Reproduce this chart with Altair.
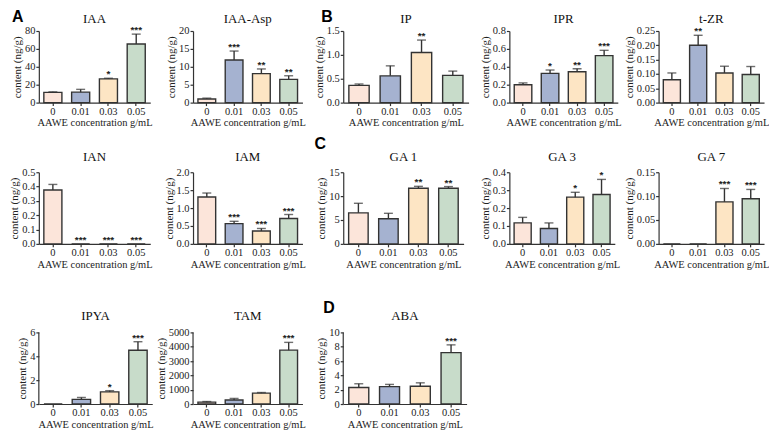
import altair as alt
import pandas as pd

CONC = ["0", "0.01", "0.03", "0.05"]
COLORS = ["#FCE5DA", "#A5B2D0", "#FDE5C4", "#C8DCCA"]

# ---- data (mean, upper SD, significance) ----
IAA_MEAN = [11.4, 11.7, 26.5, 65.5]
IAA_ERR = [0.6, 3.1, 0.7, 11.0]
IAA_SIG = ["", "", "*", "***"]

IAAASP_MEAN = [1.0, 11.9, 8.1, 6.5]
IAAASP_ERR = [0.25, 2.5, 1.3, 1.0]
IAAASP_SIG = ["", "***", "**", "**"]

IP_MEAN = [0.36, 0.56, 1.05, 0.57]
IP_ERR = [0.03, 0.21, 0.26, 0.09]
IP_SIG = ["", "", "**", ""]

IPR_MEAN = [0.20, 0.326, 0.344, 0.525]
IPR_ERR = [0.02, 0.038, 0.034, 0.059]
IPR_SIG = ["", "*", "**", "***"]

TZR_MEAN = [0.080, 0.200, 0.1035, 0.098]
TZR_ERR = [0.0235, 0.035, 0.0235, 0.028]
TZR_SIG = ["", "**", "", ""]

IAN_MEAN = [0.376, 0.0, 0.0, 0.0]
IAN_ERR = [0.039, 0.0, 0.0, 0.0]
IAN_SIG = ["", "***", "***", "***"]

IAM_MEAN = [1.31, 0.566, 0.36, 0.71]
IAM_ERR = [0.11, 0.064, 0.07, 0.11]
IAM_SIG = ["", "***", "***", "***"]

GA1_MEAN = [6.5, 5.26, 11.65, 11.65]
GA1_ERR = [2.0, 1.14, 0.4, 0.35]
GA1_SIG = ["", "", "**", "**"]

GA3_MEAN = [0.117, 0.086, 0.261, 0.276]
GA3_ERR = [0.031, 0.031, 0.027, 0.084]
GA3_SIG = ["", "", "*", "*"]

GA7_MEAN = [0.0, 0.0, 0.088, 0.0946]
GA7_ERR = [0.0, 0.0, 0.028, 0.0194]
GA7_SIG = ["", "", "***", "***"]

IPYA_MEAN = [0.0, 0.39, 1.02, 4.51]
IPYA_ERR = [0.0, 0.16, 0.10, 0.71]
IPYA_SIG = ["", "", "*", "***"]

TAM_MEAN = [130, 283, 761, 3761]
TAM_ERR = [44, 108, 43, 543]
TAM_SIG = ["", "", "", "***"]

ABA_MEAN = [2.30, 2.43, 2.48, 7.17]
ABA_ERR = [0.53, 0.31, 0.48, 1.09]
ABA_SIG = ["", "", "", "***"]

TITLES = ["IAA", "IAA-Asp", "IP", "IPR", "t-ZR",
          "IAN", "IAM", "GA 1", "GA 3", "GA 7",
          "IPYA", "TAM", "ABA"]
MEANS = [IAA_MEAN, IAAASP_MEAN, IP_MEAN, IPR_MEAN, TZR_MEAN,
         IAN_MEAN, IAM_MEAN, GA1_MEAN, GA3_MEAN, GA7_MEAN,
         IPYA_MEAN, TAM_MEAN, ABA_MEAN]
ERRS = [IAA_ERR, IAAASP_ERR, IP_ERR, IPR_ERR, TZR_ERR,
        IAN_ERR, IAM_ERR, GA1_ERR, GA3_ERR, GA7_ERR,
        IPYA_ERR, TAM_ERR, ABA_ERR]
SIGS = [IAA_SIG, IAAASP_SIG, IP_SIG, IPR_SIG, TZR_SIG,
        IAN_SIG, IAM_SIG, GA1_SIG, GA3_SIG, GA7_SIG,
        IPYA_SIG, TAM_SIG, ABA_SIG]
YTICKS = [[0, 20, 40, 60, 80], [0, 5, 10, 15, 20], [0, 0.5, 1.0, 1.5],
          [0, 0.2, 0.4, 0.6, 0.8], [0, 0.05, 0.10, 0.15, 0.20, 0.25],
          [0, 0.1, 0.2, 0.3, 0.4, 0.5], [0, 0.5, 1.0, 1.5, 2.0], [0, 5, 10, 15],
          [0, 0.1, 0.2, 0.3, 0.4], [0, 0.05, 0.10, 0.15],
          [0, 2, 4, 6], [0, 1000, 2000, 3000, 4000, 5000], [0, 2, 4, 6, 8, 10]]
YFMT = ["d", "d", ".1f", ".1f", ".2f", ".1f", ".1f", "d", ".1f", ".2f", "d", "d", "d"]
PANEL_LETTER = {0: ("A", -27, -22), 2: ("B", -22, -22), 7: ("C", -29, -36), 12: ("D", -20, -33)}

WIDTHS = [112, 110, 126, 109, 106,
          112, 110, 121, 106, 106,
          114, 110, 124]
TITLE_Y = [-8, -8, -8, -8, -8,
           -11, -11, -11, -11, -11,
           -12, -12, -12]
# blank space kept above the visible axis (lets the last row sit lower)
EXTRA = [0] * 10 + [19, 19, 19]
HEIGHT = 72

SERIF = "Liberation Serif"
INK = "#333333"


def panel(i):
    df = pd.DataFrame({"conc": CONC, "mean": MEANS[i], "err": ERRS[i], "sig": SIGS[i]})
    df["top"] = df["mean"] + df["err"]
    ticks = YTICKS[i]
    ex = EXTRA[i]
    h = HEIGHT + ex
    ymax = ticks[-1] * h / HEIGHT
    xenc = alt.X("conc:N", sort=CONC,
                 scale=alt.Scale(domain=CONC, paddingInner=0.35, paddingOuter=0.18),
                 axis=alt.Axis(title="AAWE concentration g/mL", labelAngle=0))
    yscale = alt.Scale(domain=[0, ymax], nice=False, zero=True)
    if ex:
        yaxis = alt.Axis(title="content (ng/g)", values=ticks, format=YFMT[i],
                         domain=False, titleY=ex + HEIGHT / 2)
    else:
        yaxis = alt.Axis(title="content (ng/g)", values=ticks, format=YFMT[i])
    base = alt.Chart(df).encode(x=xenc)
    bars = base.mark_bar(stroke=INK, strokeWidth=1.4).encode(
        y=alt.Y("mean:Q", scale=yscale, axis=yaxis),
        fill=alt.Fill("conc:N", scale=alt.Scale(domain=CONC, range=COLORS), legend=None),
    )
    rule = base.transform_filter("datum.err > 0").mark_rule(color=INK, strokeWidth=1.4).encode(
        y=alt.Y("mean:Q", scale=yscale, axis=yaxis), y2="top:Q")
    cap = base.transform_filter("datum.err > 0").mark_tick(
        color=INK, orient="horizontal", size=9, thickness=1.4).encode(
        y=alt.Y("top:Q", scale=yscale, axis=yaxis))
    stars = base.mark_text(font="Liberation Sans", fontSize=10, fontWeight="bold",
                           baseline="bottom", dy=1, color="#222222").encode(
        y=alt.Y("top:Q", scale=yscale, axis=yaxis), text="sig:N")
    title = alt.Chart(pd.DataFrame({"t": [TITLES[i]]})).mark_text(
        font=SERIF, fontSize=13, align="center", baseline="alphabetic",
        color="#111111").encode(
        x=alt.value(WIDTHS[i] / 2), y=alt.value(TITLE_Y[i] + ex), text="t:N")
    layers = [bars, rule, cap, stars, title]
    if ex:
        axis_line = alt.Chart(pd.DataFrame({"lo": [0], "hi": [ticks[-1]]})).mark_rule(
            color=INK, strokeWidth=1.2).encode(
            x=alt.value(0),
            y=alt.Y("lo:Q", scale=yscale, axis=yaxis), y2="hi:Q")
        layers.append(axis_line)
    if i in PANEL_LETTER:
        letter, lx, ly = PANEL_LETTER[i]
        lab = alt.Chart(pd.DataFrame({"t": [letter]})).mark_text(
            font="Liberation Sans", fontWeight="bold", fontSize=16,
            align="left", baseline="top", color="#000000").encode(
            x=alt.value(lx), y=alt.value(ly + ex), text="t:N")
        layers.append(lab)
    return alt.layer(*layers).properties(width=WIDTHS[i], height=h)


chart = alt.concat(
    *[panel(i) for i in range(13)],
    columns=5, spacing={"row": 70, "column": 41}, bounds="flush", align="each",
).properties(padding=0).configure_view(stroke=None).configure_axis(
    grid=False, domainColor=INK, tickColor=INK, domainWidth=1.2, tickWidth=1.2,
    labelFont=SERIF, titleFont=SERIF, labelColor="#222222", titleColor="#222222",
    labelFontSize=10.5, titleFontSize=10.5, titleFontWeight="normal",
    tickSize=3, labelPadding=1, titlePadding=2,
).configure_axisX(titlePadding=1).configure_axisY(titleFontSize=11)

chart.save("out.html", embed_options={"renderer": "svg", "actions": False})
